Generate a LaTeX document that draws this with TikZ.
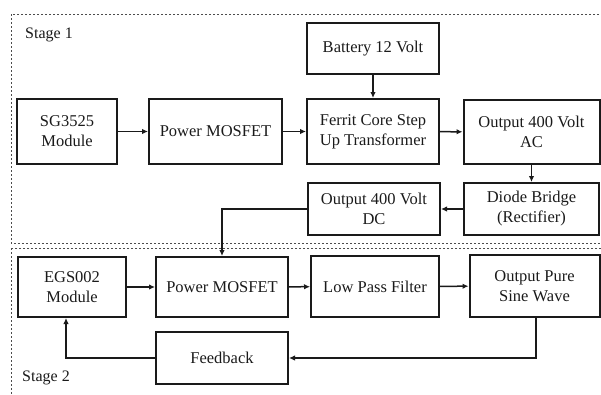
\documentclass[tikz,border=0pt]{standalone}
\usepackage{fontspec}
\setmainfont{Liberation Serif}
\usetikzlibrary{arrows.meta}
\definecolor{ink}{HTML}{1A1A1A}
\tikzset{
  blk/.style={draw=ink, line width=2pt, inner sep=0pt, align=center, text=ink,
    font=\fontsize{16.5}{20}\selectfont},
  arr/.style={draw=ink, line width=1.5pt, -{Latex[length=6pt,width=5.5pt]}},
  stagebox/.style={draw=gray!60!black, line width=1pt, dash pattern=on 2.4pt off 1.6pt},
  stagelbl/.style={anchor=west, inner sep=0pt, text=ink, font=\fontsize{16}{18}\selectfont}
}
\begin{document}
\begin{tikzpicture}[x=1pt,y=-1pt]
\useasboundingbox (0,0) rectangle (601,394);
\begin{scope}
\clip (0,0) rectangle (601,394);
\draw[stagebox] (11,14) rectangle (620,243);
\draw[stagebox] (11,248) rectangle (620,410);
\end{scope}
\node[stagelbl] (s1) at (25,35) {Stage 1};
\node[stagelbl] (s2) at (22,378) {Stage 2};
% stage 1
\node[blk, minimum width=100pt, minimum height=65pt] (sg) at (67,131.5) {SG3525\\Module};
\node[blk, minimum width=133pt, minimum height=65pt] (pm1) at (215.5,131.5) {Power MOSFET};
\node[blk, minimum width=132pt, minimum height=51pt] (bat) at (373,48.5) {Battery 12 Volt};
\node[blk, minimum width=132pt, minimum height=65pt] (fer) at (373,131.5) {Ferrit Core Step\\Up Transformer};
\node[blk, minimum width=136pt, minimum height=64pt] (ac) at (531.5,132) {Output 400 Volt\\AC};
\node[blk, minimum width=135pt, minimum height=52pt] (dio) at (531.5,209) {Diode Bridge\\(Rectifier)};
\node[blk, minimum width=132pt, minimum height=52pt] (dc) at (374,209) {Output 400 Volt\\DC};
% stage 2
\node[blk, minimum width=108pt, minimum height=60pt] (egs) at (72,287) {EGS002\\Module};
\node[blk, minimum width=132pt, minimum height=60pt] (pm2) at (222,287) {Power MOSFET};
\node[blk, minimum width=128pt, minimum height=61pt] (lpf) at (375,286.5) {Low Pass Filter};
\node[blk, minimum width=130pt, minimum height=62pt] (sine) at (534.5,286) {Output Pure\\Sine Wave};
\node[blk, minimum width=132pt, minimum height=52pt] (fb) at (222,358) {Feedback};
% connectors
\draw[arr] (sg) -- (pm1);
\draw[arr] (pm1) -- (fer);
\draw[arr] (bat) -- (fer);
\draw[arr] (fer) -- (ac);
\draw[arr] (ac) -- (dio);
\draw[arr] (dio) -- (dc);
\draw[arr] (dc.west) -| (pm2.north);
\draw[arr] (egs) -- (pm2);
\draw[arr] (pm2) -- (lpf);
\draw[arr] (lpf) -- (sine);
\draw[arr] ([xshift=1.5pt]sine.south) |- (fb.east);
\draw[arr] (fb.west) -| ([xshift=-6pt]egs.south);
\end{tikzpicture}
\end{document}
